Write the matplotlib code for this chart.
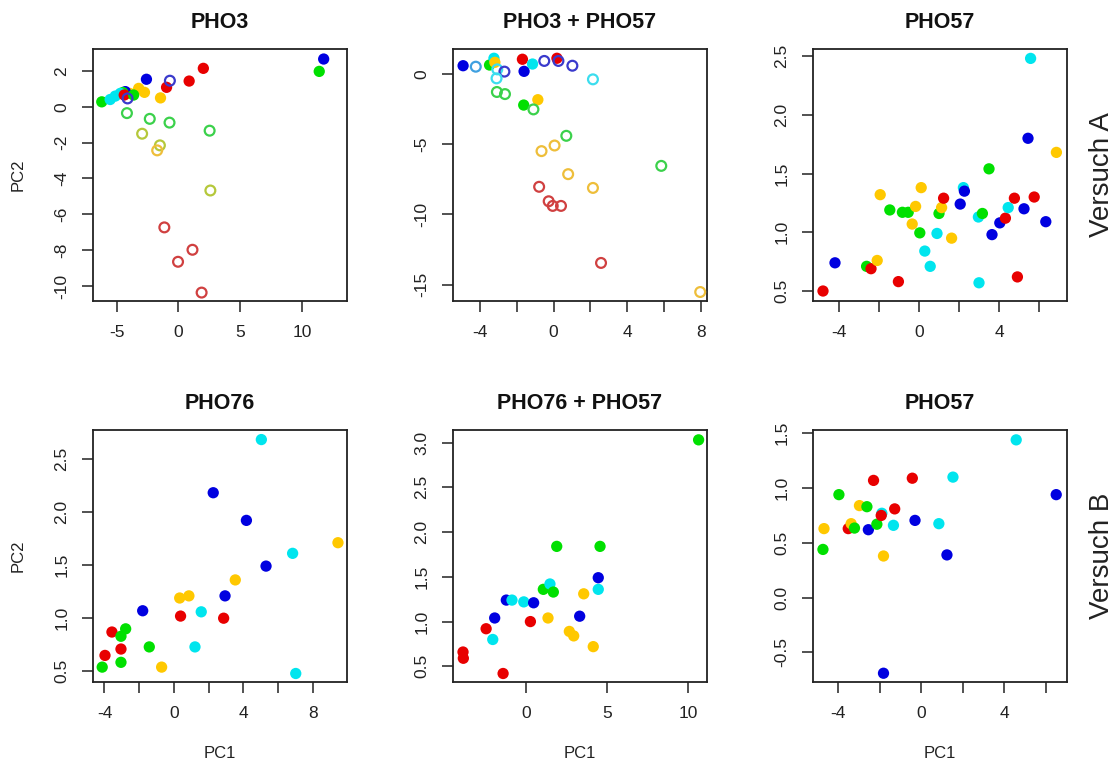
import matplotlib
matplotlib.use("Agg")
import matplotlib.pyplot as plt

plt.rcParams['font.family'] = ['Liberation Sans', 'DejaVu Sans']

# Farben (gefuellt / offen)
farben = {
    'b': '#0000E0', 'r': '#E80000', 'g': '#00E000', 'c': '#00E5EE', 'y': '#FFC800',
    'ob': '#3A3ACC', 'olb': '#3FA0E0', 'oc': '#3CDDEE', 'og': '#3BD14B',
    'oyg': '#B5C83A', 'oy': '#EEBE3A', 'or': '#D04040',
}

# PHO3 (Versuch A)
pho3_x = [11.77, 11.41, 2.02, 0.87, -0.96, -2.59, -3.22, -2.75, -1.45, -3.95,
          -4.3, -4.5, -6.21, -5.53, -5.12, -4.71, -4.39, -3.63,
          -0.69, -4.12, -4.17, -2.32, -0.72, 2.53, -2.94, -1.50, -1.72, 2.59,
          -1.14, 1.14, -0.03, 1.88]
pho3_y = [2.67, 1.98, 2.15, 1.44, 1.09, 1.54, 1.03, 0.81, 0.50, 0.75,
          0.85, 0.80, 0.28, 0.41, 0.60, 0.75, 0.66, 0.66,
          1.46, 0.47, -0.35, -0.67, -0.88, -1.33, -1.50, -2.15, -2.43, -4.67,
          -6.73, -7.98, -8.65, -10.37]
pho3_col = ['b', 'g', 'r', 'r', 'r', 'b', 'y', 'y', 'y', 'y',
            'b', 'g', 'g', 'c', 'c', 'c', 'r', 'g',
            'ob', 'ob', 'og', 'og', 'og', 'og', 'oyg', 'oyg', 'oy', 'oyg',
            'or', 'or', 'or', 'or']

# PHO3 + PHO57 (Versuch A)
pho3_57_x = [-4.93, -3.49, -3.25, -3.20, -1.70, -1.61, -1.15, 0.18, -1.63, -0.86,
             -4.24, -3.07, -2.68, -3.11, -0.51, 0.26, 1.02, 2.14,
             -3.09, -2.65, -1.10, 0.69, 5.86,
             -0.66, 0.05, 0.79, 2.14, 7.98,
             -0.79, -0.27, -0.05, 0.40, 2.58]
pho3_57_y = [0.59, 0.64, 1.12, 0.83, 1.05, 0.19, 0.71, 1.12, -2.21, -1.83,
             0.52, 0.33, 0.17, -0.31, 0.93, 0.93, 0.59, -0.38,
             -1.28, -1.43, -2.52, -4.40, -6.54,
             -5.49, -5.09, -7.13, -8.11, -15.52,
             -8.03, -9.06, -9.39, -9.39, -13.45]
pho3_57_col = ['b', 'g', 'c', 'y', 'r', 'b', 'c', 'r', 'g', 'y',
               'olb', 'oc', 'ob', 'oc', 'ob', 'ob', 'ob', 'oc',
               'og', 'og', 'og', 'og', 'og',
               'oy', 'oy', 'oy', 'oy', 'oy',
               'or', 'or', 'or', 'or', 'or']

# PHO57 (Versuch A)
pho57a_x = [-4.81, -4.21, -2.63, -2.41, -2.10, -1.95, -1.04, -1.47, -0.84, -0.55,
            -0.18, -0.35, 0.10, 0.03, 0.28, 0.55, 0.89, 0.99, 1.12, 1.22,
            1.62, 2.05, 2.21, 2.26, 2.96, 3.16, 2.99, 3.49, 3.64, 4.03,
            4.31, 4.45, 4.76, 4.91, 5.24, 5.44, 5.57, 5.75, 6.33, 6.86]
pho57a_y = [0.50, 0.74, 0.71, 0.69, 0.76, 1.32, 0.58, 1.19, 1.17, 1.17,
            1.22, 1.07, 1.38, 0.995, 0.84, 0.71, 0.99, 1.16, 1.21, 1.29,
            0.95, 1.24, 1.38, 1.35, 1.13, 1.16, 0.57, 1.54, 0.98, 1.08,
            1.12, 1.21, 1.29, 0.62, 1.20, 1.80, 2.48, 1.30, 1.09, 1.68]
pho57a_col = ['r', 'b', 'g', 'r', 'y', 'y', 'r', 'g', 'g', 'g',
              'y', 'y', 'y', 'g', 'c', 'c', 'c', 'g', 'y', 'r',
              'y', 'b', 'c', 'b', 'c', 'g', 'c', 'g', 'b', 'b',
              'r', 'c', 'r', 'r', 'b', 'b', 'c', 'r', 'b', 'y']

# PHO76 (Versuch B)
pho76_x = [-4.13, -3.97, -3.57, -3.05, -3.05, -3.05, -2.78, -1.80, -1.42, -0.71,
           0.33, 0.38, 0.86, 1.21, 1.57, 2.26, 2.86, 2.94, 3.53, 4.17,
           5.03, 5.30, 6.83, 7.01, 9.44]
pho76_y = [0.54, 0.65, 0.87, 0.83, 0.71, 0.585, 0.90, 1.07, 0.73, 0.54,
           1.19, 1.02, 1.21, 0.73, 1.06, 2.18, 1.00, 1.21, 1.36, 1.92,
           2.68, 1.49, 1.61, 0.48, 1.71]
pho76_col = ['g', 'r', 'r', 'g', 'r', 'g', 'g', 'b', 'g', 'y',
             'y', 'r', 'y', 'c', 'c', 'b', 'r', 'b', 'y', 'b',
             'c', 'b', 'c', 'c', 'y']

# PHO76 + PHO57 (Versuch B)
pho76_57_x = [-3.92, -3.90, -2.49, -2.08, -1.96, -1.44, -1.24, -0.89, -0.16, 0.25,
              0.45, 1.05, 1.46, 1.67, 1.88, 1.34, 2.66, 2.93, 3.30, 3.55,
              4.14, 4.45, 4.45, 4.56, 10.66]
pho76_57_y = [0.66, 0.59, 0.92, 0.80, 1.04, 0.42, 1.24, 1.24, 1.22, 1.00,
              1.21, 1.36, 1.42, 1.33, 1.84, 1.04, 0.89, 0.84, 1.06, 1.31,
              0.72, 1.36, 1.49, 1.84, 3.03]
pho76_57_col = ['r', 'r', 'r', 'c', 'b', 'r', 'b', 'c', 'c', 'r',
                'b', 'g', 'c', 'g', 'g', 'y', 'y', 'y', 'b', 'y',
                'y', 'c', 'b', 'g', 'g']

# PHO57 (Versuch B)
pho57b_x = [-4.74, -4.69, -3.97, -3.52, -3.38, -3.22, -2.98, -2.62, -2.55, -2.30,
            -2.14, -1.90, -1.93, -1.82, -1.82, -1.28, -1.34, -0.43, -0.30, 0.85,
            1.24, 1.53, 4.58, 6.51]
pho57b_y = [0.44, 0.63, 0.94, 0.63, 0.675, 0.635, 0.84, 0.83, 0.62, 1.07,
            0.67, 0.77, 0.75, 0.38, -0.69, 0.81, 0.66, 1.09, 0.705, 0.675,
            0.39, 1.10, 1.44, 0.94]
pho57b_col = ['g', 'y', 'g', 'r', 'y', 'g', 'y', 'g', 'b', 'r',
              'g', 'c', 'r', 'y', 'b', 'r', 'c', 'r', 'b', 'c',
              'b', 'c', 'c', 'b']

panels = [
    ("PHO3", pho3_x, pho3_y, pho3_col, (-6.92, 13.66), (-10.84, 3.23),
     [-5, 0, 5, 10], ['-5', '0', '5', '10'],
     [-10, -8, -6, -4, -2, 0, 2], ['-10', '-8', '-6', '-4', '-2', '0', '2']),
    ("PHO3 + PHO57", pho3_57_x, pho3_57_y, pho3_57_col, (-5.48, 8.35), (-16.16, 1.78),
     [-4, -2, 0, 2, 4, 6, 8], ['-4', '', '0', '', '4', '', '8'],
     [-15, -10, -5, 0], ['-15', '-10', '-5', '0']),
    ("PHO57", pho57a_x, pho57a_y, pho57a_col, (-5.31, 7.39), (0.415, 2.56),
     [-4, -2, 0, 2, 4, 6], ['-4', '', '0', '', '4', ''],
     [0.5, 1.0, 1.5, 2.0, 2.5], ['0.5', '1.0', '1.5', '2.0', '2.5']),
    ("PHO76", pho76_x, pho76_y, pho76_col, (-4.66, 9.96), (0.40, 2.77),
     [-4, -2, 0, 2, 4, 6, 8], ['-4', '', '0', '', '4', '', '8'],
     [0.5, 1.0, 1.5, 2.0, 2.5], ['0.5', '1.0', '1.5', '2.0', '2.5']),
    ("PHO76 + PHO57", pho76_57_x, pho76_57_y, pho76_57_col, (-4.54, 11.18), (0.325, 3.14),
     [0, 5, 10], ['0', '5', '10'],
     [0.5, 1.0, 1.5, 2.0, 2.5, 3.0], ['0.5', '1.0', '1.5', '2.0', '2.5', '3.0']),
    ("PHO57", pho57b_x, pho57b_y, pho57b_col, (-5.22, 7.03), (-0.77, 1.53),
     [-4, -2, 0, 2, 4, 6], ['-4', '', '0', '', '4', ''],
     [-0.5, 0.0, 0.5, 1.0, 1.5], ['-0.5', '0.0', '0.5', '1.0', '1.5']),
]

W, H = 1118, 765
fig = plt.figure(figsize=(W / 100, H / 100), dpi=100)

lefts = [93, 453, 813]
tops = [49, 430]
bw, bh = 254, 252

for i, (titel, xs, ys, cols, xl, yl, xt, xtl, yt, ytl) in enumerate(panels):
    zeile, spalte = divmod(i, 3)
    ax = fig.add_axes([lefts[spalte] / W, 1 - (tops[zeile] + bh) / H, bw / W, bh / H])
    # erst gefuellte Punkte, dann offene Kreise
    for x, y, c in zip(xs, ys, cols):
        if not c.startswith('o'):
            ax.scatter(x, y, s=66, color=farben[c], edgecolors='none', zorder=2)
    for x, y, c in zip(xs, ys, cols):
        if c.startswith('o'):
            ax.scatter(x, y, s=50, facecolors='none', edgecolors=farben[c],
                       linewidths=1.6, zorder=3)
    ax.set_xlim(xl)
    ax.set_ylim(yl)
    ax.set_xticks(xt)
    ax.set_xticklabels(xtl, fontsize=12.5, color='#222222')
    ax.set_yticks(yt)
    ax.set_yticklabels(ytl, fontsize=12.5, color='#222222', rotation=90, va='center')
    ax.tick_params(direction='out', length=8, width=1.1, pad=9, color='#222222')
    for sp in ax.spines.values():
        sp.set_linewidth(1.3)
        sp.set_color('#222222')
    ax.set_title(titel, fontsize=15.5, fontweight='bold', pad=15, color='#111111')
    if spalte == 0:
        ax.set_ylabel("PC2", fontsize=12, labelpad=21, color='#222222')
    if zeile == 1:
        ax.set_xlabel("PC1", fontsize=12, labelpad=18, color='#222222')

fig.text(1102 / W, 1 - 175 / H, "Versuch A", rotation=90, fontsize=20,
         ha='center', va='center', color='#222222')
fig.text(1102 / W, 1 - 556 / H, "Versuch B", rotation=90, fontsize=20,
         ha='center', va='center', color='#222222')

fig.savefig("out.png", dpi=100)
